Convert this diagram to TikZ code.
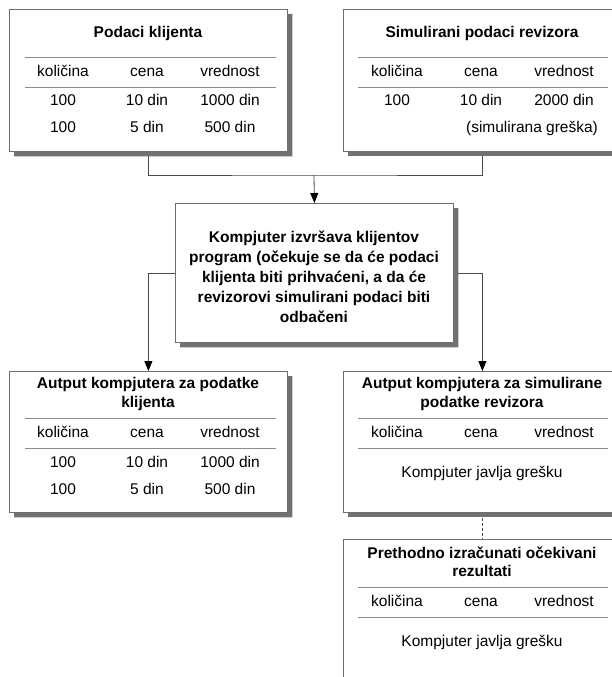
\documentclass[tikz,border=0pt]{standalone}
\usepackage{fontspec}
\setmainfont{Liberation Sans}
\usetikzlibrary{arrows.meta}
\definecolor{framegray}{HTML}{6E6E6E}
\definecolor{shadowgray}{HTML}{717171}
\definecolor{rulegray}{HTML}{8C8C8C}
\definecolor{wiregray}{HTML}{4A4A4A}
\pgfdeclarelayer{wires}
\pgfsetlayers{wires,main}

\begin{document}
\begin{tikzpicture}[x=1pt,y=-1pt,
  panel/.style={draw=framegray, fill=white, line width=0.8pt, inner sep=0pt,
    anchor=north west, minimum width=278pt},
  heading/.style={font=\fontsize{15.5}{18.5}\selectfont\bfseries, align=center, inner sep=0pt},
  cell/.style={font=\fontsize{15.5}{18.5}\selectfont, inner sep=0pt, text height=11pt, text depth=3pt},
  sep/.style={draw=rulegray, line width=0.8pt},
  wire/.style={draw=wiregray, line width=0.8pt},
  flow/.style={wire, -{Triangle[width=8pt,length=10pt,color=black]}},
  hint/.style={draw=wiregray, line width=0.7pt, dash pattern=on 3pt off 2pt},
  shadowbox/.style={fill=shadowgray, draw=none}
]
\useasboundingbox (0,0) rectangle (612,677);
\clip (0,0) rectangle (612,677);

% ---- client data ----
\node[panel, minimum height=142pt] (clientIn) at (9,9) {};
\node[heading] (clientInTitle) at (148,33) {Podaci klijenta};
\draw[sep] (25,57) -- (276,57);
\draw[sep] (25,87) -- (276,87);
\node[cell] (clientInH1) at (63,73) {količina};
\node[cell] (clientInH2) at (147,73) {cena};
\node[cell] (clientInH3) at (230,73) {vrednost};
\node[cell] (clientInA1) at (63,101) {100};
\node[cell] (clientInA2) at (147,101) {10 din};
\node[cell] (clientInA3) at (230,101) {1000 din};
\node[cell] (clientInB1) at (63,128) {100};
\node[cell] (clientInB2) at (147,128) {5 din};
\node[cell] (clientInB3) at (230,128) {500 din};

% ---- auditor's simulated data ----
\node[panel, minimum height=142pt] (auditIn) at (343,9) {};
\node[heading] (auditInTitle) at (482,33) {Simulirani podaci revizora};
\draw[sep] (358,57) -- (608,57);
\draw[sep] (358,87) -- (608,87);
\node[cell] (auditInH1) at (397,73) {količina};
\node[cell] (auditInH2) at (481,73) {cena};
\node[cell] (auditInH3) at (564,73) {vrednost};
\node[cell] (auditInA1) at (397,101) {100};
\node[cell] (auditInA2) at (481,101) {10 din};
\node[cell] (auditInA3) at (564,101) {2000 din};
\node[cell] (auditInNote) at (532,128) {(simulirana greška)};

% ---- processing step ----
\node[panel, minimum height=139pt] (proc) at (175,203) {};
\node[heading, font=\fontsize{15.5}{20}\selectfont\bfseries] (procText) at (314,277)
  {Kompjuter izvršava klijentov\\program (očekuje se da će podaci\\klijenta biti prihvaćeni, a da će\\revizorovi simulirani podaci biti\\odbačeni};

% ---- output for client data ----
\node[panel, minimum height=141pt] (clientOut) at (9,371) {};
\node[heading] (clientOutTitle) at (148,394) {Autput kompjutera za podatke\\klijenta};
\draw[sep] (25,418) -- (276,418);
\draw[sep] (25,448) -- (276,448);
\node[cell] (clientOutH1) at (63,433) {količina};
\node[cell] (clientOutH2) at (147,433) {cena};
\node[cell] (clientOutH3) at (230,433) {vrednost};
\node[cell] (clientOutA1) at (63,463) {100};
\node[cell] (clientOutA2) at (147,463) {10 din};
\node[cell] (clientOutA3) at (230,463) {1000 din};
\node[cell] (clientOutB1) at (63,490) {100};
\node[cell] (clientOutB2) at (147,490) {5 din};
\node[cell] (clientOutB3) at (230,490) {500 din};

% ---- output for simulated data ----
\node[panel, minimum height=141pt] (auditOut) at (343,371) {};
\node[heading] (auditOutTitle) at (482,394) {Autput kompjutera za simulirane\\podatke revizora};
\draw[sep] (358,418) -- (608,418);
\draw[sep] (358,448) -- (608,448);
\node[cell] (auditOutH1) at (397,433) {količina};
\node[cell] (auditOutH2) at (481,433) {cena};
\node[cell] (auditOutH3) at (564,433) {vrednost};
\node[cell] (auditOutMsg) at (482,473) {Kompjuter javlja grešku};

% ---- precomputed expected results ----
\node[panel, minimum height=170pt] (expected) at (343,539) {};
\node[heading] (expectedTitle) at (482,562) {Prethodno izračunati očekivani\\rezultati};
\draw[sep] (358,587) -- (608,587);
\draw[sep] (358,617) -- (608,617);
\node[cell] (expectedH1) at (397,602) {količina};
\node[cell] (expectedH2) at (481,602) {cena};
\node[cell] (expectedH3) at (564,602) {vrednost};
\node[cell] (expectedMsg) at (482,642) {Kompjuter javlja grešku};

% ---- drop shadows: a right band and a bottom band beside each panel ----
\fill[shadowbox] (287.4,14) rectangle (292.4,156.4)  (14,151.4) rectangle (292.4,156.4);
\fill[shadowbox] (348,151.4) rectangle (612,156.4);
\fill[shadowbox] (453.4,208) rectangle (458.4,347.4)  (180,342.4) rectangle (458.4,347.4);
\fill[shadowbox] (287.4,376) rectangle (292.4,517.4)  (14,512.4) rectangle (292.4,517.4);
\fill[shadowbox] (348,512.4) rectangle (612,517.4);

% ---- connectors ----
\coordinate (bus) at (314,175);
\begin{pgfonlayer}{wires}
  \draw[wire] (clientIn.south) |- (bus) -| (auditIn.south);
  \draw[flow] (bus) -- (proc.north);
  \draw[flow] (proc.west) -| (clientOut.north);
  \draw[flow] (proc.east) -| (auditOut.north);
  \draw[hint] (auditOut.south) -- (expected.north);
\end{pgfonlayer}
\end{tikzpicture}
\end{document}
